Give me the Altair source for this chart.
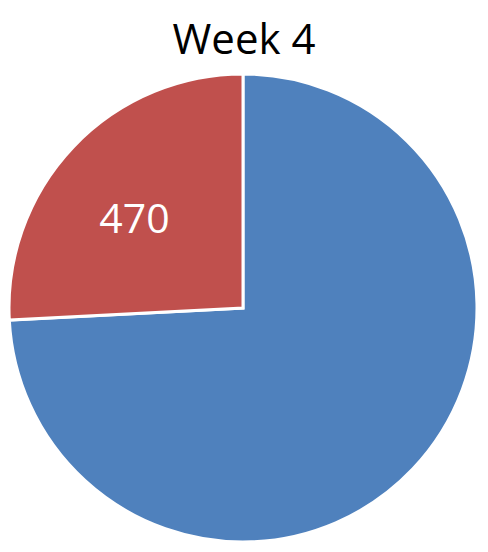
import altair as alt
import pandas as pd

title_text = "Week 4"
categories = ["A", "B"]
values = [1350, 470]
labels = ["", "470"]
colors = ["#4F81BD", "#C0504D"]

df = pd.DataFrame({"cat": categories, "value": values, "label": labels,
                   "order": list(range(len(categories)))})

CX, CY, R = 235, 300, 234

base = alt.Chart(df).encode(
    theta=alt.Theta("value:Q", stack=True),
    order=alt.Order("order:Q"),
)

pie = base.mark_arc(radius=R, stroke="white", strokeWidth=3).encode(
    x=alt.value(CX), y=alt.value(CY),
    color=alt.Color("cat:N", scale=alt.Scale(domain=categories, range=colors), legend=None),
)

text = base.mark_text(radius=140, dx=-7, dy=9, font="Open Sans", fontSize=41, color="white").encode(
    x=alt.value(CX), y=alt.value(CY),
    text="label:N",
)

title = alt.Chart(pd.DataFrame({"t": [title_text]})).mark_text(
    font="Open Sans", fontSize=42, color="black", baseline="alphabetic", align="center"
).encode(x=alt.value(236), y=alt.value(46), text="t:N")

chart = alt.layer(pie, text, title).properties(
    width=472, height=536, autosize=alt.AutoSizeParams(type="none"), padding=0
).configure_view(stroke=None)

chart.save("out.html", embed_options={"renderer": "svg", "actions": False})
